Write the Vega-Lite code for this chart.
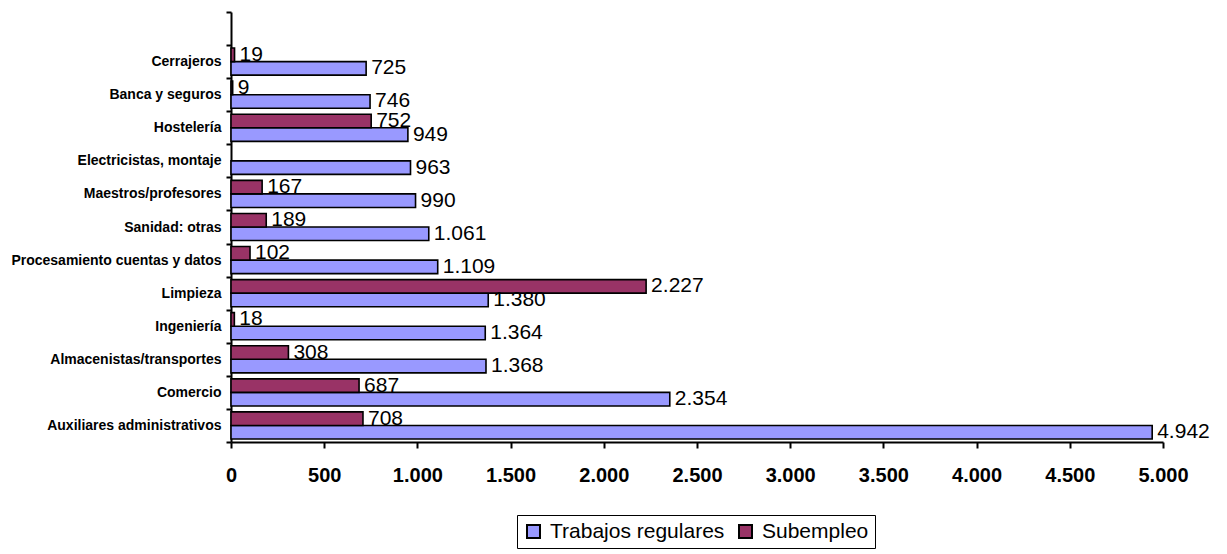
{
  "$schema": "https://vega.github.io/schema/vega-lite/v6.json",
  "autosize": {"type": "none"},
  "padding": {"left": 231, "top": 12, "right": 64, "bottom": 112},
  "width": 932,
  "height": 430,
  "data": {
    "values": [
      {"ocupacion": "Cerrajeros", "serie": "Trabajos regulares", "valor": 725},
      {"ocupacion": "Cerrajeros", "serie": "Subempleo", "valor": 19},
      {"ocupacion": "Banca y seguros", "serie": "Trabajos regulares", "valor": 746},
      {"ocupacion": "Banca y seguros", "serie": "Subempleo", "valor": 9},
      {"ocupacion": "Hostelería", "serie": "Trabajos regulares", "valor": 949},
      {"ocupacion": "Hostelería", "serie": "Subempleo", "valor": 752},
      {"ocupacion": "Electricistas, montaje", "serie": "Trabajos regulares", "valor": 963},
      {"ocupacion": "Maestros/profesores", "serie": "Trabajos regulares", "valor": 990},
      {"ocupacion": "Maestros/profesores", "serie": "Subempleo", "valor": 167},
      {"ocupacion": "Sanidad: otras", "serie": "Trabajos regulares", "valor": 1061},
      {"ocupacion": "Sanidad: otras", "serie": "Subempleo", "valor": 189},
      {"ocupacion": "Procesamiento cuentas y datos", "serie": "Trabajos regulares", "valor": 1109},
      {"ocupacion": "Procesamiento cuentas y datos", "serie": "Subempleo", "valor": 102},
      {"ocupacion": "Limpieza", "serie": "Trabajos regulares", "valor": 1380},
      {"ocupacion": "Limpieza", "serie": "Subempleo", "valor": 2227},
      {"ocupacion": "Ingeniería", "serie": "Trabajos regulares", "valor": 1364},
      {"ocupacion": "Ingeniería", "serie": "Subempleo", "valor": 18},
      {"ocupacion": "Almacenistas/transportes", "serie": "Trabajos regulares", "valor": 1368},
      {"ocupacion": "Almacenistas/transportes", "serie": "Subempleo", "valor": 308},
      {"ocupacion": "Comercio", "serie": "Trabajos regulares", "valor": 2354},
      {"ocupacion": "Comercio", "serie": "Subempleo", "valor": 687},
      {"ocupacion": "Auxiliares administrativos", "serie": "Trabajos regulares", "valor": 4942},
      {"ocupacion": "Auxiliares administrativos", "serie": "Subempleo", "valor": 708}
    ]
  },
  "encoding": {
    "y": {
      "field": "ocupacion",
      "type": "nominal",
      "title": null,
      "scale": {
        "domain": [" ", "Cerrajeros", "Banca y seguros", "Hostelería", "Electricistas, montaje", "Maestros/profesores", "Sanidad: otras", "Procesamiento cuentas y datos", "Limpieza", "Ingeniería", "Almacenistas/transportes", "Comercio", "Auxiliares administrativos"],
        "paddingInner": 0,
        "paddingOuter": 0
      },
      "axis": {
        "tickBand": "extent",
        "tickSize": 5,
        "labelPadding": 5,
        "labelFontSize": 14,
        "labelFontWeight": "bold",
        "labelLimit": 400
      }
    },
    "yOffset": {
      "field": "serie",
      "type": "nominal",
      "scale": {"domain": ["Subempleo", "Trabajos regulares"], "paddingInner": 0, "paddingOuter": 0.22}
    },
    "x": {
      "field": "valor",
      "type": "quantitative",
      "title": null,
      "scale": {"domain": [0, 5000], "nice": false},
      "axis": {
        "values": [0, 500, 1000, 1500, 2000, 2500, 3000, 3500, 4000, 4500, 5000],
        "format": ",.0f",
        "grid": false,
        "tickSize": 6,
        "labelPadding": 17,
        "labelFontSize": 20,
        "labelFontWeight": "bold",
        "labelFlush": false
      }
    }
  },
  "layer": [
    {
      "mark": {"type": "bar", "stroke": "black", "strokeWidth": 1.6},
      "encoding": {
        "color": {
          "field": "serie",
          "type": "nominal",
          "scale": {"domain": ["Trabajos regulares", "Subempleo"], "range": ["#9999FF", "#993366"]},
          "legend": {
            "orient": "none",
            "legendX": 286,
            "legendY": 503,
            "direction": "horizontal",
            "title": null,
            "strokeColor": "black",
            "padding": 6,
            "symbolType": "square",
            "symbolSize": 169,
            "symbolStrokeColor": "black",
            "symbolStrokeWidth": 2,
            "labelFontSize": 21,
            "labelOffset": 6,
            "columnPadding": 10,
            "labelLimit": 400
          }
        }
      }
    },
    {
      "mark": {"type": "text", "align": "left", "baseline": "middle", "dx": 5, "fontSize": 21, "color": "black"},
      "encoding": {
        "text": {"field": "valor", "type": "quantitative", "format": ",.0f"}
      }
    }
  ],
  "config": {
    "locale": {"number": {"decimal": ",", "thousands": ".", "grouping": [3], "currency": ["", " €"]}},
    "font": "Liberation Sans",
    "view": {"stroke": null},
    "axis": {
      "domainColor": "black",
      "domainWidth": 2,
      "tickColor": "black",
      "tickWidth": 2,
      "labelColor": "black",
      "labelFont": "Liberation Sans"
    },
    "legend": {"labelFont": "Liberation Sans", "labelColor": "black"}
  }
}
